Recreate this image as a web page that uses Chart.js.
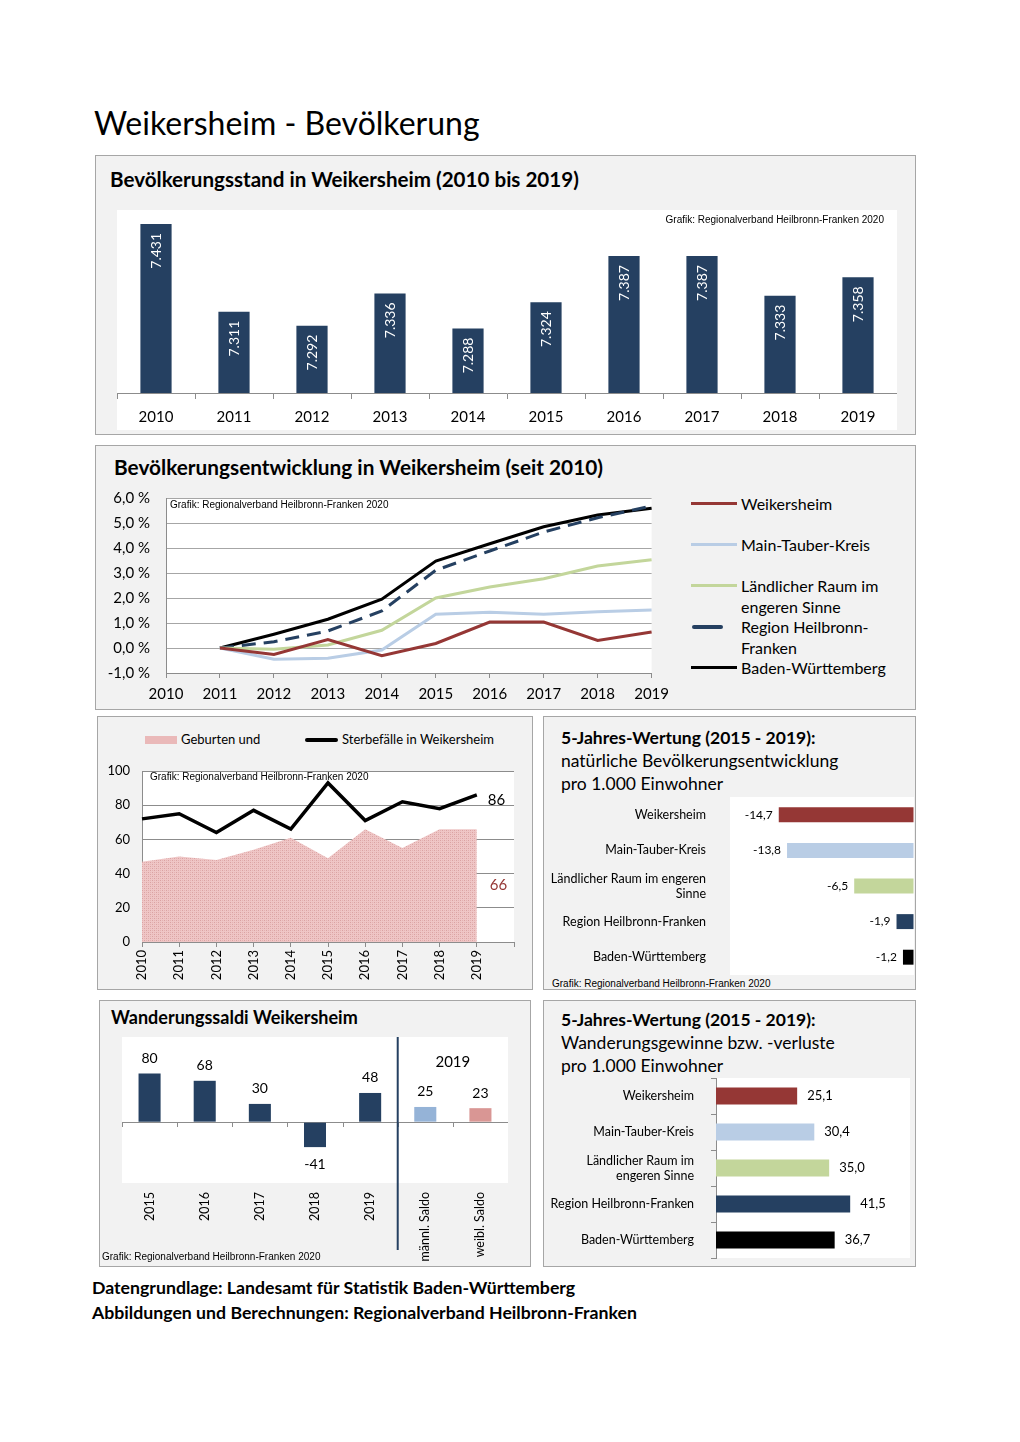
<!DOCTYPE html>
<html lang="de">
<head>
<meta charset="utf-8">
<title>Weikersheim - Bevölkerung</title>
<script src="https://cdn.jsdelivr.net/npm/chart.js@4.4.1/dist/chart.umd.min.js"></script>
<style>
  body { margin: 0; background: #fff; font-family: Lato, sans-serif; color: #000; }
  #page { position: relative; width: 1020px; height: 1442px; overflow: hidden; }
  .abs { position: absolute; white-space: nowrap; line-height: 1.2; }
  .panel { position: absolute; background: #f2f2f2; border: 1px solid #a6a6a6; box-sizing: border-box; }
  .box { position: absolute; }
  .credit { position: absolute; font-family: 'Liberation Sans', Arial, sans-serif; font-size: 10px; line-height: 12px; white-space: nowrap; }
  .b { font-weight: bold; }
</style>
</head>
<body>
<div id="page">
  <div class="abs" style="left:94px; top:104px; font-size:32px;">Weikersheim - Bevölkerung</div>

  <div class="panel" style="left:95px; top:155px; width:821px; height:280px;"></div>
  <div class="panel" style="left:95px; top:445px; width:821px; height:265px;"></div>
  <div class="panel" style="left:97px; top:716px; width:436px; height:274px;"></div>
  <div class="panel" style="left:543px; top:716px; width:373px; height:274px;"></div>
  <div class="panel" style="left:99px; top:1000px; width:432px; height:267px;"></div>
  <div class="panel" style="left:543px; top:1000px; width:373px; height:267px;"></div>

  <div class="abs b" style="left:110px; top:167px; font-size:20.6px;">Bevölkerungsstand in Weikersheim (2010 bis 2019)</div>
  <div class="box" style="left:117px; top:210px; width:780px; height:220px; background:#fff;"><canvas id="popChart"></canvas></div>
  <div class="credit" style="right:136px; top:214px;">Grafik: Regionalverband Heilbronn-Franken 2020</div>

  <div class="abs b" style="left:114px; top:455px; font-size:20.8px;">Bevölkerungsentwicklung in Weikersheim (seit 2010)</div>
  <div class="box" style="left:100px; top:488px; width:576px; height:220px;"><canvas id="devChart"></canvas></div>
  <div class="credit" style="left:170px; top:499px;">Grafik: Regionalverband Heilbronn-Franken 2020</div>
  <div id="devLegend"></div>

  <div class="box" style="left:145px; top:736px; width:32px; height:8px; background:#eab9b9;"></div>
  <div class="abs" style="left:181px; top:732px; font-size:13px;">Geburten und</div>
  <div class="box" style="left:305px; top:738px; width:33px; height:4px; background:#000; border-radius:2px;"></div>
  <div class="abs" style="left:342px; top:732px; font-size:13px;">Sterbefälle in Weikersheim</div>
  <div class="box" style="left:100px; top:760px; width:428px; height:225px;"><canvas id="vitalChart"></canvas></div>
  <div class="credit" style="left:150px; top:771px;">Grafik: Regionalverband Heilbronn-Franken 2020</div>

  <div class="abs" style="left:561px; top:726px; font-size:17.5px; line-height:23px;"><span class="b">5-Jahres-Wertung (2015 - 2019):</span><br>natürliche Bevölkerungsentwicklung<br>pro 1.000 Einwohner</div>
  <div class="box" style="left:545px; top:797px; width:369px; height:180px;"><canvas id="natChart"></canvas></div>
  <div class="credit" style="left:552px; top:978px;">Grafik: Regionalverband Heilbronn-Franken 2020</div>

  <div class="abs b" style="left:111px; top:1007px; font-size:18px;">Wanderungssaldi Weikersheim</div>
  <div class="box" style="left:122px; top:1037px; width:386px; height:229px;"><canvas id="migChart"></canvas></div>
  <div class="credit" style="left:102px; top:1251px;">Grafik: Regionalverband Heilbronn-Franken 2020</div>

  <div class="abs" style="left:561px; top:1008px; font-size:17.5px; line-height:23px;"><span class="b">5-Jahres-Wertung (2015 - 2019):</span><br>Wanderungsgewinne bzw. -verluste<br>pro 1.000 Einwohner</div>
  <div class="box" style="left:545px; top:1078px; width:367px; height:182px;"><canvas id="mig5Chart"></canvas></div>

  <div class="abs b" style="left:92px; top:1275px; font-size:17.7px; line-height:25px;">Datengrundlage: Landesamt für Statistik Baden-Württemberg<br>Abbildungen und Berechnungen: Regionalverband Heilbronn-Franken</div>
</div>

<script>
// data
const years = ['2010', '2011', '2012', '2013', '2014', '2015', '2016', '2017', '2018', '2019'];
const population = [7431, 7311, 7292, 7336, 7288, 7324, 7387, 7387, 7333, 7358];

// Entwicklung in % gegenüber 2011
const devWeikersheim = [null, 0, -0.26, 0.34, -0.31, 0.18, 1.04, 1.04, 0.30, 0.64];
const devMainTauber = [null, 0, -0.45, -0.41, -0.08, 1.35, 1.43, 1.35, 1.45, 1.52];
const devLaendlich = [null, 0, -0.05, 0.12, 0.71, 2.00, 2.44, 2.77, 3.28, 3.53];
const devRegionHF = [null, 0, 0.25, 0.68, 1.48, 3.11, 3.88, 4.64, 5.21, 5.68];
const devBW = [null, 0, 0.55, 1.15, 1.95, 3.48, 4.17, 4.85, 5.32, 5.59];
const devLegend = ['Weikersheim', 'Main-Tauber-Kreis', ['Ländlicher Raum im', 'engeren Sinne'], ['Region Heilbronn-', 'Franken'], 'Baden-Württemberg'];

const vitalLabels = years.concat(['']);
const births = [47, 50, 48, 54, 61, 49, 66, 55, 66, 66];
const deaths = [72, 75, 64, 77, 66, 93, 71, 82, 78, 86];

const natLabels = ['Weikersheim', 'Main-Tauber-Kreis', ['Ländlicher Raum im engeren', 'Sinne'], 'Region Heilbronn-Franken', 'Baden-Württemberg'];
const natural5y = [-14.7, -13.8, -6.5, -1.9, -1.2];
const migLabels = ['Weikersheim', 'Main-Tauber-Kreis', ['Ländlicher Raum im', 'engeren Sinne'], 'Region Heilbronn-Franken', 'Baden-Württemberg'];
const migration5y = [25.1, 30.4, 35.0, 41.5, 36.7];
const regionColors = ['#953735', '#b9cde5', '#c3d69b', '#254061', '#000000'];

const migCats = ['2015', '2016', '2017', '2018', '2019', 'männl. Saldo', 'weibl. Saldo'];
const migSaldo = [80, 68, 30, -41, 48, 25, 23];
const migColors = ['#254061', '#254061', '#254061', '#254061', '#254061', '#95b3d7', '#d99694'];

Chart.defaults.font.family = 'Lato';
Chart.defaults.color = '#000';
Chart.defaults.animation = false;
Chart.defaults.responsive = true;
Chart.defaults.maintainAspectRatio = false;
Chart.defaults.layout.autoPadding = false;
Chart.defaults.plugins.legend.display = false;
Chart.defaults.plugins.tooltip.enabled = false;

// white plot area
Chart.register({
  id: 'areaBg',
  beforeDraw(chart, args, opts) {
    if (!opts.color) return;
    const a = chart.chartArea, c = chart.ctx;
    c.save();
    c.fillStyle = opts.color;
    c.fillRect(a.left, a.top, a.right - a.left, a.bottom - a.top);
    c.restore();
  }
});

const deNum = v => v.toFixed(1).replace('.', ',');
const thousands = v => Math.floor(v / 1000) + '.' + String(v % 1000).padStart(3, '0');
const axisGray = '#8c8c8c';
const onlyZero = ctx => (ctx.tick && ctx.tick.value === 0) ? axisGray : 'rgba(0,0,0,0)';
// keep the label padding from shrinking the plot area
const noPad = s => { s.paddingTop = 0; s.paddingBottom = 0; };
const noPadX = s => { s.paddingLeft = 0; s.paddingRight = 0; };

// hatched pink fill for births
function hatch() {
  const p = document.createElement('canvas');
  p.width = 4; p.height = 4;
  const g = p.getContext('2d');
  g.fillStyle = '#efc6c6';
  g.fillRect(0, 0, 4, 4);
  g.fillStyle = '#daa2a2';
  g.fillRect(0, 0, 1, 1);
  g.fillRect(2, 2, 1, 1);
  g.fillStyle = '#e4b2b2';
  g.fillRect(2, 0, 1, 1);
  g.fillRect(0, 2, 1, 1);
  return g.createPattern(p, 'repeat');
}

// 1) Bevölkerungsstand
new Chart(document.getElementById('popChart'), {
  type: 'bar',
  data: {
    labels: years,
    datasets: [{ data: population, backgroundColor: '#254061', categoryPercentage: 1, barPercentage: 0.4 }]
  },
  options: {
    scales: {
      x: {
        grid: { offset: true, drawOnChartArea: false, tickLength: 6, color: axisGray },
        border: { color: axisGray },
        ticks: { font: { size: 15 }, padding: 9 },
        afterFit(s) { s.height = 37; }
      },
      y: { display: false, min: 7200, max: 7450 }
    }
  },
  plugins: [{
    id: 'popLabels',
    afterDatasetsDraw(chart) {
      const c = chart.ctx;
      c.save();
      c.font = '14px Lato';
      c.fillStyle = '#fff';
      c.textAlign = 'right';
      c.textBaseline = 'middle';
      chart.getDatasetMeta(0).data.forEach((el, i) => {
        c.save();
        c.translate(el.x, el.y + 9);
        c.rotate(-Math.PI / 2);
        c.fillText(thousands(population[i]), 0, 0);
        c.restore();
      });
      c.restore();
    }
  }]
});

// 2) Bevölkerungsentwicklung
const devSets = [devWeikersheim, devMainTauber, devLaendlich, devRegionHF, devBW];
const devColors = ['#953735', '#b9cde5', '#c3d69b', '#254061', '#000000'];
new Chart(document.getElementById('devChart'), {
  type: 'line',
  data: {
    labels: years,
    datasets: devSets.map((d, i) => ({
      label: [].concat(devLegend[i]).join(' '),
      data: d,
      borderColor: devColors[i],
      borderWidth: 3,
      borderDash: i === 3 ? [14, 8] : [],
      pointRadius: 0,
      tension: 0
    }))
  },
  options: {
    layout: { padding: { top: 10, right: 24 } },
    plugins: { areaBg: { color: '#fff' } },
    scales: {
      x: {
        offset: false,
        grid: { drawOnChartArea: false, tickLength: 5, color: axisGray },
        border: { color: axisGray },
        ticks: { font: { size: 15 }, padding: 7, maxRotation: 0 },
        afterFit(s) { s.height = 35; }
      },
      y: {
        min: -1, max: 6,
        grid: { drawTicks: false, color: '#a6a6a6' },
        border: { color: axisGray },
        ticks: { stepSize: 1, font: { size: 15 }, padding: 16, callback: v => deNum(v) + ' %' },
        afterFit(s) { s.width = 66; noPad(s); }
      }
    }
  }
});

// legend for development chart
const legendBox = document.getElementById('devLegend');
devLegend.forEach((lbl, i) => {
  const cy = 503 + i * 41.2;
  const sw = document.createElement('div');
  sw.className = 'box';
  if (i === 3) {
    sw.style.cssText = 'left:692px; top:' + (cy - 2) + 'px; width:31px; height:4px; border-radius:2px;';
  } else {
    sw.style.cssText = 'left:691px; top:' + (cy - 1.5) + 'px; width:46px; height:3px;';
  }
  sw.style.background = devColors[i];
  legendBox.appendChild(sw);
  const tx = document.createElement('div');
  tx.className = 'abs';
  tx.style.cssText = 'left:741px; top:' + (cy - 10.5) + 'px; font-size:16px; line-height:21px;';
  tx.innerHTML = [].concat(lbl).join('<br>');
  legendBox.appendChild(tx);
});

// 3) Geburten und Sterbefälle
new Chart(document.getElementById('vitalChart'), {
  type: 'line',
  data: {
    labels: vitalLabels,
    datasets: [
      { label: 'Sterbefälle', data: deaths, borderColor: '#000', borderWidth: 3.5, pointRadius: 0, tension: 0, order: 1 },
      { label: 'Geburten', data: births, fill: 'origin', backgroundColor: hatch(), borderWidth: 0, pointRadius: 0, tension: 0, order: 2 }
    ]
  },
  options: {
    layout: { padding: { top: 11, right: 14 } },
    plugins: { areaBg: { color: '#fff' } },
    scales: {
      x: {
        offset: false,
        grid: { drawOnChartArea: false, tickLength: 5, color: axisGray },
        border: { color: axisGray },
        ticks: { font: { size: 13 }, padding: 3, minRotation: 90, maxRotation: 90, autoSkip: false },
        afterFit(s) { s.height = 43; noPadX(s); }
      },
      y: {
        min: 0, max: 100,
        grid: { drawTicks: false, color: axisGray },
        border: { color: axisGray },
        ticks: { stepSize: 20, font: { size: 13 }, padding: 12 },
        afterFit(s) { s.width = 42; noPad(s); }
      }
    }
  },
  plugins: [{
    id: 'vitalLabels',
    afterDatasetsDraw(chart) {
      const c = chart.ctx, xs = chart.scales.x, ys = chart.scales.y, last = births.length - 1;
      const px = xs.getPixelForValue(last) + 11;
      c.save();
      c.font = '15px Lato';
      c.textAlign = 'left';
      c.textBaseline = 'middle';
      c.fillStyle = '#000';
      c.fillText(String(deaths[last]), px, ys.getPixelForValue(deaths[last]) + 5);
      c.fillStyle = '#953735';
      c.fillText(String(births[last]), px + 2, ys.getPixelForValue(births[last] / 2));
      c.restore();
    }
  }]
});

// 4) natürliche Bevölkerungsentwicklung (5 Jahre)
new Chart(document.getElementById('natChart'), {
  type: 'bar',
  data: {
    labels: natLabels,
    datasets: [{ data: natural5y, backgroundColor: regionColors, categoryPercentage: 1, barPercentage: 0.42 }]
  },
  options: {
    indexAxis: 'y',
    plugins: { areaBg: { color: '#fff' } },
    scales: {
      x: {
        min: -20, max: 0,
        ticks: { display: false },
        grid: { drawTicks: false, color: onlyZero },
        border: { display: false },
        afterFit(s) { s.height = 2; }
      },
      y: {
        grid: { display: false, drawTicks: false },
        border: { display: false },
        ticks: { font: { size: 12.5 }, padding: 24 },
        afterFit(s) { s.width = 185; noPad(s); }
      }
    }
  },
  plugins: [{
    id: 'natValues',
    afterDatasetsDraw(chart) {
      const c = chart.ctx;
      c.save();
      c.font = '12px Lato';
      c.textAlign = 'right';
      c.textBaseline = 'middle';
      c.fillStyle = '#000';
      chart.getDatasetMeta(0).data.forEach((el, i) => c.fillText(deNum(natural5y[i]), el.x - 6, el.y));
      c.restore();
    }
  }]
});

// 5) Wanderungssaldi
new Chart(document.getElementById('migChart'), {
  type: 'bar',
  data: {
    labels: migCats,
    datasets: [{ data: migSaldo, backgroundColor: migColors, categoryPercentage: 1, barPercentage: 0.4 }]
  },
  options: {
    plugins: { areaBg: { color: '#fff' } },
    scales: {
      x: {
        grid: { display: false, drawTicks: false },
        border: { display: false },
        ticks: { font: { size: 12.5 }, padding: 9, minRotation: 90, maxRotation: 90, autoSkip: false },
        afterFit(s) { s.height = 83; }
      },
      y: {
        min: -100, max: 140,
        ticks: { display: false, stepSize: 20 },
        grid: { drawTicks: false, color: onlyZero },
        border: { display: false },
        afterFit(s) { s.width = 0; }
      }
    }
  },
  plugins: [{
    id: 'migDecor',
    afterDatasetsDraw(chart) {
      const c = chart.ctx, xs = chart.scales.x, ys = chart.scales.y;
      c.save();
      c.font = '14px Lato';
      c.textAlign = 'center';
      c.textBaseline = 'middle';
      c.fillStyle = '#000';
      chart.getDatasetMeta(0).data.forEach((el, i) => {
        const v = migSaldo[i];
        c.fillText(String(v), el.x, v >= 0 ? el.y - 15 : el.y + 17);
      });
      // tick marks on the zero line
      const y0 = Math.round(ys.getPixelForValue(0));
      const step = xs.getPixelForValue(1) - xs.getPixelForValue(0);
      c.strokeStyle = axisGray;
      c.lineWidth = 1;
      c.beginPath();
      for (let i = 0; i <= migCats.length; i++) {
        const xx = Math.round(xs.getPixelForValue(0) - step / 2 + i * step) + 0.5;
        c.moveTo(xx, y0);
        c.lineTo(xx, y0 + 5);
      }
      c.stroke();
      // separator between years and 2019 by sex
      const sep = (xs.getPixelForValue(4) + xs.getPixelForValue(5)) / 2;
      c.strokeStyle = '#254061';
      c.lineWidth = 2;
      c.beginPath();
      c.moveTo(sep, 0);
      c.lineTo(sep, 213);
      c.stroke();
      c.font = '15px Lato';
      c.fillText('2019', (xs.getPixelForValue(5) + xs.getPixelForValue(6)) / 2, 25);
      c.restore();
    }
  }]
});

// 6) Wanderungsgewinne (5 Jahre)
new Chart(document.getElementById('mig5Chart'), {
  type: 'bar',
  data: {
    labels: migLabels,
    datasets: [{ data: migration5y, backgroundColor: regionColors, categoryPercentage: 1, barPercentage: 0.47 }]
  },
  options: {
    indexAxis: 'y',
    layout: { padding: { right: 2, bottom: 2 } },
    plugins: { areaBg: { color: '#fff' } },
    scales: {
      x: { display: false, min: 0, max: 60 },
      y: {
        grid: { offset: true, drawOnChartArea: false, tickLength: 5, color: axisGray },
        border: { color: axisGray },
        ticks: { font: { size: 12.5 }, padding: 17 },
        afterFit(s) { s.width = 171; noPad(s); }
      }
    }
  },
  plugins: [{
    id: 'mig5Values',
    afterDatasetsDraw(chart) {
      const c = chart.ctx;
      c.save();
      c.font = '13px Lato';
      c.textAlign = 'left';
      c.textBaseline = 'middle';
      c.fillStyle = '#000';
      chart.getDatasetMeta(0).data.forEach((el, i) => c.fillText(deNum(migration5y[i]), el.x + 10, el.y));
      c.restore();
    }
  }]
});
</script>
</body>
</html>
